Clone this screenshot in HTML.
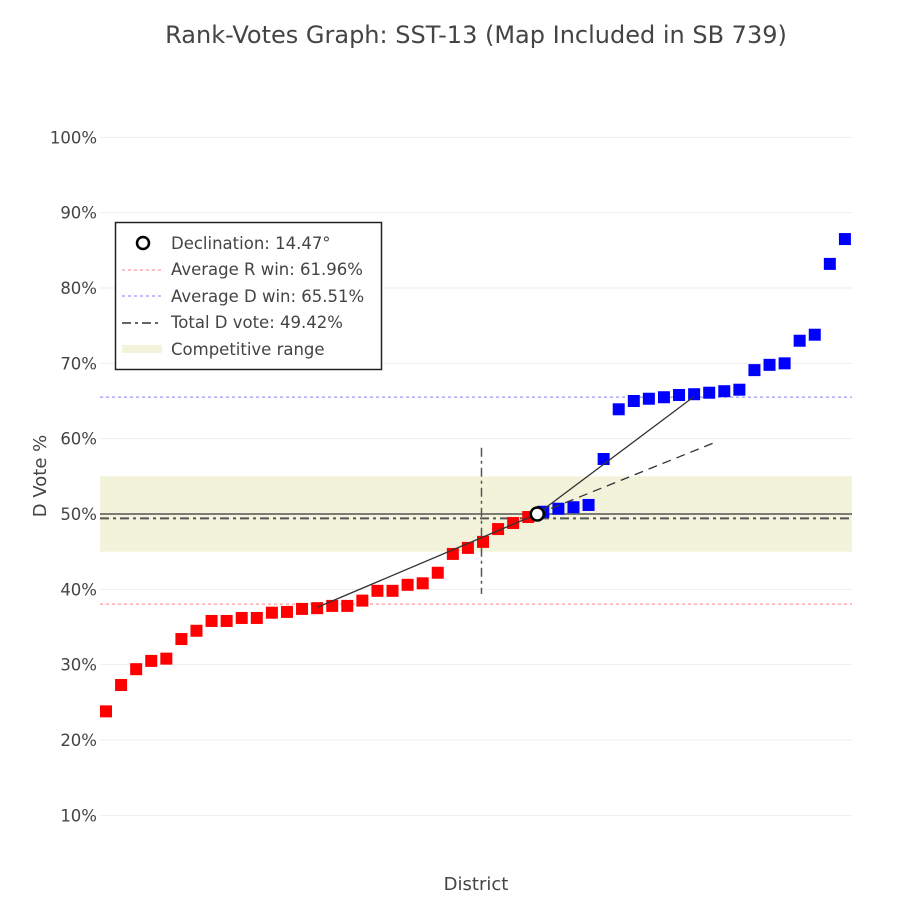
<!DOCTYPE html>
<html><head><meta charset="utf-8">
<style>
html,body{margin:0;padding:0;background:#fff;}
svg{display:block;font-family:"DejaVu Sans","Liberation Sans",sans-serif;}
</style></head>
<body>
<svg id="chart" width="900" height="911" viewBox="0 0 900 911">
<text x="476" y="43" text-anchor="middle" font-size="24" fill="#444">Rank-Votes Graph: SST-13 (Map Included in SB 739)</text>
<g id="grid"></g>
<g id="yticks"></g>
<g id="overlay"></g>
<g id="marks"></g>
<text x="476" y="890" text-anchor="middle" font-size="18" fill="#444">District</text>
<text transform="translate(46,476) rotate(-90)" text-anchor="middle" font-size="18" fill="#444">D Vote %</text>
<g>
<rect x="115.5" y="222.5" width="266" height="147" fill="#fff" stroke="#222" stroke-width="1.5"/>
<g>
<circle cx="143" cy="243" r="6" fill="#fff" stroke="#000" stroke-width="2.5"/>
<text x="171" y="249" font-size="16.5" fill="#444">Declination: 14.47°</text></g>
<g>
<line x1="122" y1="270" x2="161" y2="270" stroke="#ff8080" stroke-dasharray="3,3"/>
<text x="171" y="275" font-size="16.5" fill="#444">Average R win: 61.96%</text></g>
<g>
<line x1="122" y1="296" x2="161" y2="296" stroke="#8080ff" stroke-dasharray="3,3"/>
<text x="171" y="302" font-size="16.5" fill="#444">Average D win: 65.51%</text></g>
<g>
<line x1="122" y1="323" x2="161" y2="323" stroke="#333" stroke-width="1.5" stroke-dasharray="9,4,3,4"/>
<text x="171" y="328" font-size="16.5" fill="#444">Total D vote: 49.42%</text></g>
<g>
<rect x="122" y="345" width="40" height="8" fill="#f3f3dc"/>
<text x="171" y="355" font-size="16.5" fill="#444">Competitive range</text></g>
</g>
</svg>
<script>
const redValues=[23.8,27.3,29.4,30.5,30.8,33.4,34.5,35.8,35.8,36.2,36.2,36.9,37.0,37.4,37.5,37.8,37.8,38.5,39.8,39.8,40.6,40.8,42.2,44.7,45.5,46.3,48.0,48.8,49.6];
const blueValues=[50.3,50.7,50.9,51.2,57.3,63.9,65.0,65.3,65.5,65.8,65.9,66.1,66.3,66.5,69.1,69.8,70.0,73.0,73.8,83.2,86.5];
const yTicks=[10,20,30,40,50,60,70,80,90,100];
const avgRWin=61.96, avgDWin=65.51, totalDVote=49.42;
const competitive=[45,55];
const declinationPoint=[28.6,50];
const rLineStart=[14,37.6];
const dLineEnd=[39,65.6];
const dashedEnd=[40.5,59.6];
const vertLine=[24.9,58.8,39.4];

const NS="http://www.w3.org/2000/svg";
const X0=100,X1=852;
function xs(i){return 106+i*15.08;}
function ys(v){return 514-(v-50)*7.533;}
function mk(tag,attrs,parent){const e=document.createElementNS(NS,tag);for(const k in attrs)e.setAttribute(k,attrs[k]);parent.appendChild(e);return e;}
const grid=document.getElementById('grid'),yt=document.getElementById('yticks'),ov=document.getElementById('overlay'),marks=document.getElementById('marks');
yTicks.forEach(t=>{
  const l=mk('line',{x1:X0,x2:X1,y1:ys(t),y2:ys(t),stroke:'#eee','stroke-width':1},grid);
  
  
  const tx=mk('text',{x:97,y:ys(t)+6,'text-anchor':'end','font-size':16.5,fill:'#444'},yt);
  tx.textContent=t+'%';
  
  
});
const band=mk('rect',{x:X0,width:X1-X0,y:ys(competitive[1]),height:ys(competitive[0])-ys(competitive[1]),fill:'#f3f3dc'},ov);


const rl=mk('line',{x1:X0,x2:X1,y1:ys(100-avgRWin),y2:ys(100-avgRWin),stroke:'#ff8080','stroke-dasharray':'3,3'},ov);


const dl=mk('line',{x1:X0,x2:X1,y1:ys(avgDWin),y2:ys(avgDWin),stroke:'#8080ff','stroke-dasharray':'3,3'},ov);


const fl=mk('line',{x1:X0,x2:X1,y1:ys(50),y2:ys(50),stroke:'#555','stroke-width':1.5},ov);


const tl=mk('line',{x1:X0,x2:X1,y1:ys(totalDVote),y2:ys(totalDVote),stroke:'#555','stroke-width':2,'stroke-dasharray':'9,4,3,4'},ov);


const vl=mk('line',{x1:xs(vertLine[0]),x2:xs(vertLine[0]),y1:ys(vertLine[1]),y2:ys(vertLine[2]),stroke:'#555','stroke-width':1.5,'stroke-dasharray':'9,4,3,4'},ov);


redValues.forEach((v,i)=>{
  const r=mk('rect',{x:xs(i)-6,y:ys(v)-6,width:12,height:12,fill:'#ff0000'},marks);
  
  
});
blueValues.forEach((v,i)=>{
  const r=mk('rect',{x:xs(i+redValues.length)-6,y:ys(v)-6,width:12,height:12,fill:'#0000ff'},marks);
  
  
});
const px=xs(declinationPoint[0]),py=ys(declinationPoint[1]);
const s1=mk('line',{x1:xs(rLineStart[0]),y1:ys(rLineStart[1]),x2:px,y2:py,stroke:'#333','stroke-width':1.3},marks);


const s2=mk('line',{x1:px,y1:py,x2:xs(dLineEnd[0]),y2:ys(dLineEnd[1]),stroke:'#333','stroke-width':1.3},marks);


const s3=mk('line',{x1:px,y1:py,x2:xs(dashedEnd[0]),y2:ys(dashedEnd[1]),stroke:'#333','stroke-width':1.3,'stroke-dasharray':'9,6'},marks);


const c=mk('circle',{cx:px,cy:py,r:6.5,fill:'#fff',stroke:'#000','stroke-width':2.5},marks);


</script>
</body></html>
